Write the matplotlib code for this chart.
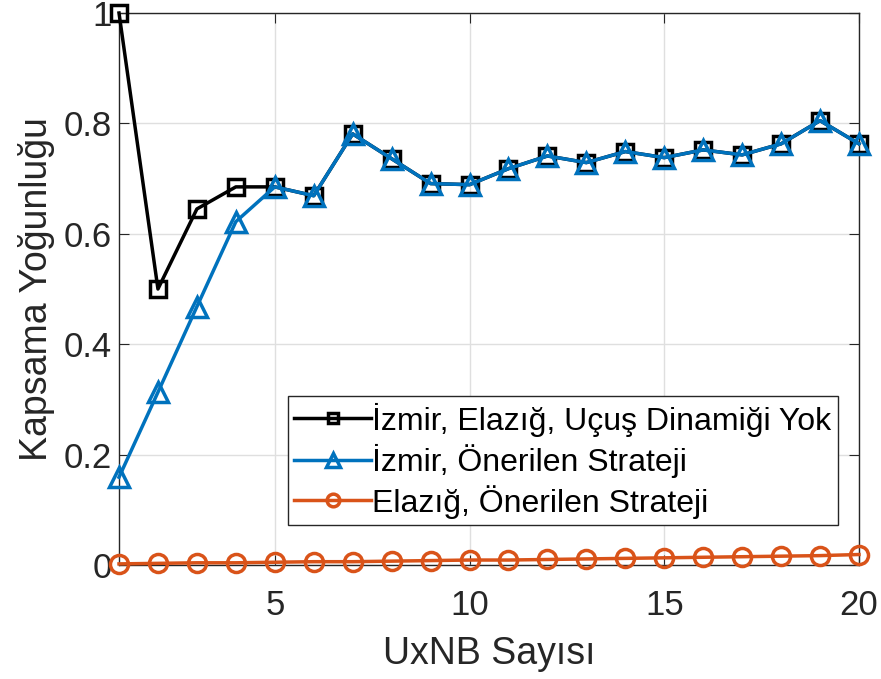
import numpy as np
import matplotlib.pyplot as plt

plt.rcParams['font.family'] = ['Liberation Sans', 'DejaVu Sans']

# number of UxNBs
uxnb = list(range(1, 21))

# coverage density per series
izmir_elazig_nodyn = [1.000, 0.500, 0.645, 0.685, 0.685, 0.669, 0.781, 0.736, 0.691, 0.689,
                      0.718, 0.741, 0.729, 0.749, 0.738, 0.752, 0.743, 0.763, 0.805, 0.763]
izmir_proposed = [0.159, 0.313, 0.468, 0.622, 0.685, 0.669, 0.781, 0.736, 0.691, 0.689,
                  0.718, 0.741, 0.729, 0.749, 0.738, 0.752, 0.743, 0.763, 0.805, 0.763]
elazig_proposed = [0.002, 0.003, 0.004, 0.004, 0.005, 0.006, 0.006, 0.007, 0.008, 0.009,
                   0.009, 0.010, 0.011, 0.012, 0.013, 0.014, 0.015, 0.016, 0.017, 0.019]

labels = ['İzmir, Elazığ, Uçuş Dinamiği Yok',
          'İzmir, Önerilen Strateji',
          'Elazığ, Önerilen Strateji']

fig = plt.figure(figsize=(8.81, 6.79), dpi=100)
ax = fig.add_axes([119 / 881, 1 - 565 / 679, (859 - 119) / 881, (565 - 13) / 679])

ax.plot(uxnb, izmir_elazig_nodyn, '-s', color='black', lw=2.5, ms=11,
        mfc='none', mew=2.5, label=labels[0], clip_on=False, zorder=3)
ax.plot(uxnb, izmir_proposed, '-^', color='#0072BD', lw=2.5, ms=14,
        mfc='none', mew=2.5, label=labels[1], clip_on=False, zorder=4)
ax.plot(uxnb, elazig_proposed, '-o', color='#D95319', lw=2.5, ms=13,
        mfc='none', mew=2.5, label=labels[2], clip_on=False, zorder=5)

ax.set_xlim(1, 20)
ax.set_ylim(0, 1)
ax.set_xticks([5, 10, 15, 20])
ax.set_yticks([0, 0.2, 0.4, 0.6, 0.8, 1.0])
ax.set_yticklabels(['0', '0.2', '0.4', '0.6', '0.8', '1'])
ax.tick_params(direction='in', labelsize=25, length=7, colors='#262626',
               top=True, right=True)
ax.tick_params(axis='x', pad=17)
ax.tick_params(axis='y', pad=5)
for sp in ax.spines.values():
    sp.set_color('#262626')
    sp.set_linewidth(1.0)
ax.grid(True, color='#dfdfdf', lw=1.0)
ax.set_axisbelow(True)

ax.set_xlabel('UxNB Sayısı', fontsize=27, color='#262626', labelpad=10)
ax.set_ylabel('Kapsama Yoğunluğu', fontsize=27, color='#262626', labelpad=6)

leg = ax.legend(loc='lower right', bbox_to_anchor=(0.9716, 0.0725), fontsize=23,
                frameon=True, fancybox=False, framealpha=1, edgecolor='#262626',
                handlelength=2.4, handletextpad=0.05, borderpad=0.2,
                labelspacing=0.22, borderaxespad=0, markerscale=0.7)
leg.get_frame().set_linewidth(1.0)
leg.set_zorder(10)

fig.savefig('out.png', dpi=100)
